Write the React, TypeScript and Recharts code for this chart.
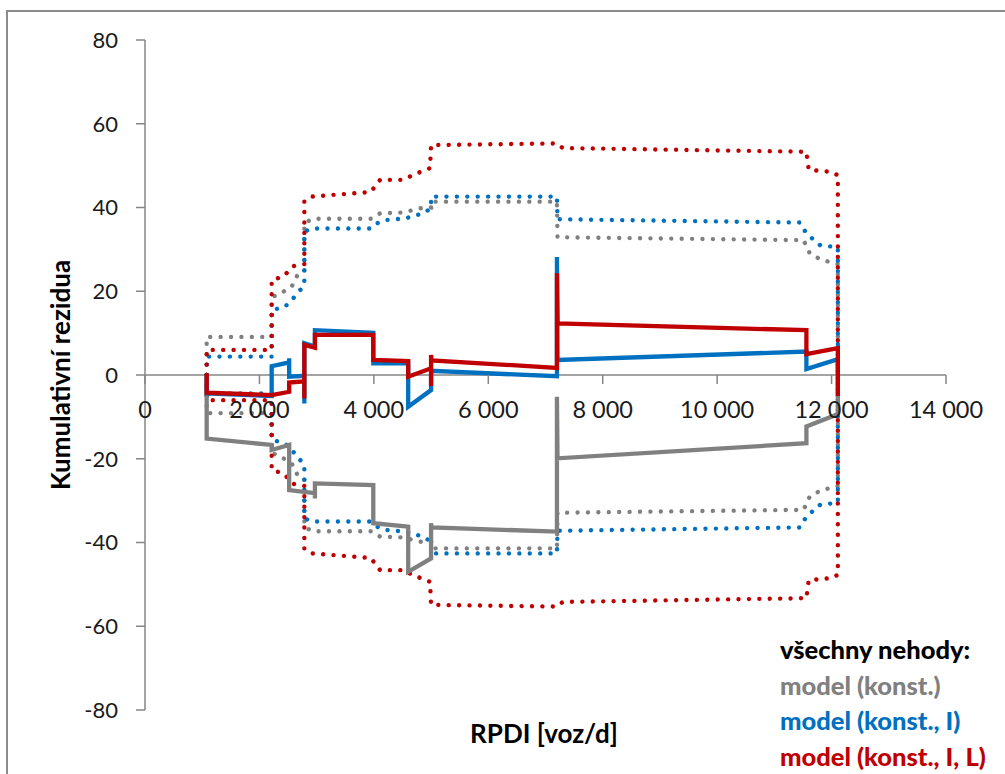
import React from 'react';
import { LineChart, Line, XAxis, YAxis, ReferenceLine } from 'recharts';

// RPDI [voz/d] values of the sites and cumulative residuals per model
const grayX = [1078, 1078, 2214, 2214, 2520, 2520, 2970, 2970, 2970, 3990, 3990, 4600, 4600, 5000, 5000, 5010, 7200, 7200, 7210, 11560, 11560, 12060, 12110, 12110];
const grayY = [0, -15.2, -16.7, -17.9, -16.7, -27.5, -28.2, -29.5, -25.9, -26.3, -35.4, -36.2, -47.0, -43.8, -35.4, -36.4, -37.4, -5.2, -19.9, -16.3, -12.3, -9.6, -9.2, 0];

const blueX = [1078, 1078, 2214, 2214, 2520, 2520, 2520, 2785, 2785, 2785, 2970, 2970, 3990, 3990, 4600, 4600, 5000, 5000, 7200, 7200, 7210, 11560, 11560, 12110, 12110];
const blueY = [0, -4.4, -5.0, 2.1, 3.0, 4.0, -0.4, -0.2, -6.8, 7.6, 6.8, 10.7, 10.1, 2.8, 2.8, -7.6, -3.6, 1.0, -0.3, 28.2, 3.6, 5.6, 1.4, 3.8, 0];

const redX = [1078, 1078, 2214, 2520, 2520, 2785, 2785, 2785, 2970, 2970, 3990, 3990, 4600, 4600, 5000, 5000, 5000, 5010, 7200, 7200, 7210, 11560, 11560, 12110, 12110];
const redY = [0, -4.2, -4.8, -4.0, -1.8, -1.5, -5.6, 7.2, 6.5, 9.6, 9.6, 3.6, 3.3, -0.4, 1.6, -2.6, 4.8, 3.5, 1.7, 24.3, 12.3, 10.7, 5.0, 6.4, -5.0];

// confidence limits (dotted)
const grayBandX = [1078, 1078, 2214, 2214, 2418, 2564, 2680, 2785, 2785, 2920, 3945, 4108, 4510, 4807, 5000, 5000, 7200, 7210, 11510, 11620, 11820, 12060, 12110, 12110];
const grayUpY = [0, 9.1, 9.1, 18.5, 19.9, 21.1, 24.3, 24.8, 36.2, 37.3, 37.3, 38.6, 38.8, 39.8, 40.0, 41.4, 41.4, 32.9, 32.2, 29.0, 27.5, 26.7, 26.5, 0];
const grayLoY = [0, -9.1, -9.1, -18.5, -19.9, -21.1, -24.3, -24.8, -36.2, -37.3, -37.3, -38.6, -38.8, -39.8, -40.0, -41.4, -41.4, -32.9, -32.2, -29.0, -27.5, -26.7, -26.5, 0];

const blueBandX = [1078, 1078, 2214, 2214, 2447, 2564, 2738, 2785, 2785, 2920, 3945, 4050, 4213, 4550, 4860, 5000, 5000, 7200, 7210, 11450, 11560, 11800, 12040, 12110, 12110];
const blueUpY = [0, 4.4, 4.4, 15.5, 16.3, 17.9, 20.7, 21.5, 34.2, 35.0, 35.0, 36.2, 37.0, 37.4, 38.6, 39.8, 42.6, 42.6, 37.2, 36.4, 33.8, 31.0, 30.6, 30.4, 0];
const blueLoY = [0, -4.4, -4.4, -15.5, -16.3, -17.9, -20.7, -21.5, -34.2, -35.0, -35.0, -36.2, -37.0, -37.4, -38.6, -39.8, -42.6, -42.6, -37.2, -36.4, -33.8, -31.0, -30.6, -30.4, 0];

const redBandX = [1078, 1078, 2214, 2214, 2418, 2592, 2785, 2785, 2913, 3945, 4108, 4510, 4690, 4982, 5000, 7200, 7300, 11560, 11600, 12000, 12110, 12110];
const redUpY = [0, 6.0, 6.0, 22.7, 23.5, 26.0, 26.5, 41.6, 42.6, 43.7, 46.6, 46.6, 47.8, 49.4, 54.9, 55.3, 54.2, 53.3, 49.0, 48.5, 47.7, 0];
const redLoY = [0, -6.0, -6.0, -22.7, -23.5, -26.0, -26.5, -41.6, -42.6, -43.7, -46.6, -46.6, -47.8, -49.4, -54.9, -55.3, -54.2, -53.3, -49.0, -48.5, -47.7, 0];

const xTicks = [0, 2000, 4000, 6000, 8000, 10000, 12000, 14000];
const yTicks = [-80, -60, -40, -20, 0, 20, 40, 60, 80];

const legendTitle = 'všechny nehody:';
const legendItems = ['model (konst.)', 'model (konst., I)', 'model (konst., I, L)'];

const GRAY = '#808080';
const BLUE = '#0070C0';
const RED = '#C00000';
const AXIS = '#868686';
const FONT = 'Lato, "Open Sans", sans-serif';

const W = 1005;
const H = 774;
const PLOT_TOP = 40;
const PLOT_H = 670;
const ZERO_Y = PLOT_TOP + PLOT_H / 2;

const pts = (xs: number[], ys: number[]) => xs.map((x, i) => ({ x, y: ys[i] }));

const fmtX = (v: number) => (v === 0 ? '0' : `${Math.floor(v / 1000)} 000`);

// x axis crosses at y = 0, so ticks and labels are drawn at the zero line
const XTick = (props: any) => {
  const { x, payload } = props;
  return (
    <g>
      <line x1={x} x2={x} y1={ZERO_Y} y2={ZERO_Y + 9} stroke={AXIS} strokeWidth={1.5} />
      <text x={x} y={ZERO_Y + 43} textAnchor="middle" fontSize={23.5} fontFamily={FONT} fill="#1a1a1a">
        {fmtX(payload.value)}
      </text>
    </g>
  );
};

const solid = { strokeWidth: 4.3, dot: false, activeDot: false, isAnimationActive: false, type: 'linear' as const };
const dotted = { ...solid, strokeWidth: 4.4, strokeDasharray: '0.01 10.4', strokeLinecap: 'round' as const };

export default function App() {
  return (
    <div style={{ position: 'absolute', left: 0, top: 0, width: W, height: H, overflow: 'hidden', background: '#fff' }}>
      <div style={{ position: 'absolute', left: 6, top: 10, width: W, height: H, border: `2px solid #8c8c8c`, boxSizing: 'border-box' }} />
      <div style={{ position: 'absolute', left: 0, top: 0 }}>
        <LineChart width={W} height={H} margin={{ top: PLOT_TOP, right: 59, bottom: 34, left: 45 }}>
          <XAxis
            type="number"
            dataKey="x"
            domain={[0, 14000]}
            ticks={xTicks}
            axisLine={false}
            tickLine={false}
            tick={<XTick />}
            height={30}
            allowDuplicatedCategory
            label={{
              content: () => (
                <text x={544} y={743} textAnchor="middle" fontSize={26} fontWeight="bold" fontFamily={FONT} fill="#000">
                  RPDI [voz/d]
                </text>
              ),
            }}
          />
          <YAxis
            type="number"
            domain={[-80, 80]}
            ticks={yTicks}
            width={100}
            interval={0}
            axisLine={{ stroke: AXIS, strokeWidth: 1.5 }}
            tickLine={{ stroke: AXIS, strokeWidth: 1.5 }}
            tickSize={9}
            tickMargin={18}
            tick={{ fontSize: 22, fontFamily: FONT, fill: '#1a1a1a' }}
            label={{
              content: () => (
                <text
                  x={60}
                  y={375}
                  transform="rotate(-90 60 375)"
                  textAnchor="middle"
                  dominantBaseline="central"
                  fontSize={26}
                  fontWeight="bold"
                  fontFamily={FONT}
                  fill="#000"
                >
                  Kumulativní rezidua
                </text>
              ),
            }}
          />
          <ReferenceLine y={0} stroke={AXIS} strokeWidth={1.5} />

          <Line data={pts(grayBandX, grayUpY)} dataKey="y" stroke={GRAY} {...dotted} />
          <Line data={pts(grayBandX, grayLoY)} dataKey="y" stroke={GRAY} {...dotted} />
          <Line data={pts(blueBandX, blueUpY)} dataKey="y" stroke={BLUE} {...dotted} />
          <Line data={pts(blueBandX, blueLoY)} dataKey="y" stroke={BLUE} {...dotted} />
          <Line data={pts(redBandX, redUpY)} dataKey="y" stroke={RED} {...dotted} />
          <Line data={pts(redBandX, redLoY)} dataKey="y" stroke={RED} {...dotted} />

          <Line data={pts(grayX, grayY)} dataKey="y" stroke={GRAY} {...solid} />
          <Line data={pts(blueX, blueY)} dataKey="y" stroke={BLUE} {...solid} />
          <Line data={pts(redX, redY)} dataKey="y" stroke={RED} {...solid} />
        </LineChart>
      </div>
      <div
        style={{
          position: 'absolute',
          left: 780,
          top: 632,
          fontFamily: FONT,
          fontWeight: 900,
          fontSize: 25.5,
          lineHeight: '35.5px',
          whiteSpace: 'nowrap',
        }}
      >
        <div style={{ color: '#000' }}>{legendTitle}</div>
        <div style={{ color: GRAY }}>{legendItems[0]}</div>
        <div style={{ color: BLUE }}>{legendItems[1]}</div>
        <div style={{ color: RED }}>{legendItems[2]}</div>
      </div>
    </div>
  );
}
